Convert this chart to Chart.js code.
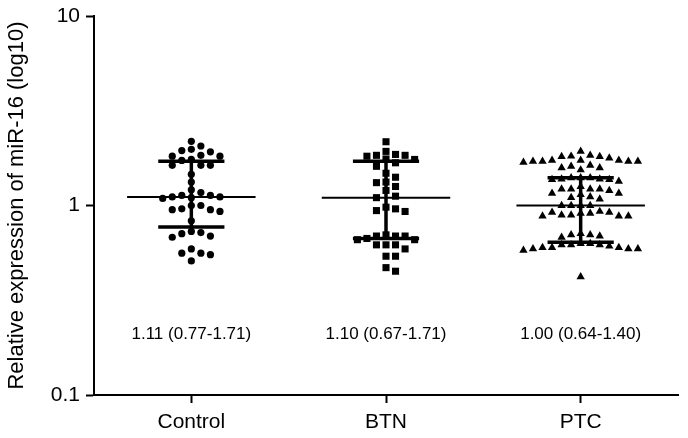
<!DOCTYPE html>
<html>
<head>
<meta charset="utf-8">
<script src="https://cdn.jsdelivr.net/npm/chart.js@4/dist/chart.umd.min.js"></script>
<style>
  html, body { margin: 0; padding: 0; background: #fff; }
  #c { display: block; }
</style>
</head>
<body>
<canvas id="c" width="688" height="438"></canvas>
<script>
// ---- data ----
const categories = ['Control', 'BTN', 'PTC'];
const yTicks = [0.1, 1, 10];
const controlValues = [
  2.18, 1.98, 1.92, 1.95, 2.06, 1.84, 1.82, 1.73, 1.75, 1.82,
  1.63, 1.63, 1.63, 1.46, 1.33, 1.21, 1.17, 1.13, 1.09, 1.11,
  1.10, 1.11, 1.13, 1.00, 0.96, 0.95, 0.93, 0.95, 1.00, 0.83,
  0.73, 0.71, 0.68, 0.69, 0.72, 0.55, 0.59, 0.56, 0.56, 0.51
];
const btnValues = [
  2.17, 1.86, 1.84, 1.93, 1.82, 1.84, 1.75, 1.76, 1.68, 1.61,
  1.48, 1.33, 1.32, 1.41, 1.20, 1.26, 1.12, 1.10, 0.96, 0.94,
  0.98, 0.93, 0.70, 0.69, 0.66, 0.69, 0.66, 0.67, 0.69, 0.62,
  0.62, 0.62, 0.59, 0.54, 0.54, 0.45, 0.47
];
const ptcValues = [
  1.93,
  1.71, 1.71, 1.71, 1.69, 1.82, 1.81, 1.78, 1.81, 1.84, 1.71, 1.73, 1.73, 1.73,
  1.61, 1.58, 1.54, 1.58, 1.63,
  1.40, 1.40, 1.38, 1.37, 1.34, 1.37, 1.38, 1.40,
  1.26, 1.22, 1.22, 1.20, 1.22, 1.22,
  1.10, 1.16, 1.14, 1.16, 1.08, 1.11,
  1.00, 1.00, 1.00, 1.00,
  0.92, 0.91, 0.89, 0.88, 0.88, 0.88, 0.89, 0.91, 0.92, 0.93,
  0.70, 0.68, 0.69, 0.70, 0.71,
  0.62, 0.62, 0.61, 0.60, 0.59, 0.59, 0.58, 0.59, 0.60, 0.60, 0.62, 0.63, 0.63,
  0.42
];
const medians = [1.11, 1.10, 1.00];
const q1s = [0.77, 0.67, 0.64];
const q3s = [1.71, 1.71, 1.40];

// ---- layout helpers (computed from the values) ----
const groups = [controlValues, btnValues, ptcValues];
const pointStyles = ['circle', 'rect', 'triangle'];
const pointRadii = [3.6, 5, 4.8];

function swarm(values, center) {
  const TH = 0.04;      // min vertical gap (decades) in one column
  const COL = 0.049;    // column width in category units
  const placed = [];
  const order = values.map((v, i) => i).sort((a, b) => values[b] - values[a]);
  const pts = new Array(values.length);
  for (const i of order) {
    const lv = Math.log10(values[i]);
    for (let k = 0; k < 60; k++) {
      const col = k === 0 ? 0 : (k % 2 ? (k + 1) / 2 : -k / 2);
      if (!placed.some(p => p.col === col && Math.abs(p.lv - lv) < TH)) {
        placed.push({ col, lv });
        pts[i] = { x: center + col * COL, y: values[i] };
        break;
      }
    }
  }
  return pts;
}

const datasets = [];
groups.forEach((vals, g) => {
  datasets.push({
    type: 'scatter',
    data: swarm(vals, g + 1),
    pointStyle: pointStyles[g],
    pointRadius: pointRadii[g],
    pointBackgroundColor: '#000',
    pointBorderColor: '#000',
    pointBorderWidth: 0,
    order: 2
  });
});

const medData = [], quartData = [];
medians.forEach((m, g) => {
  const c = g + 1;
  medData.push({ x: c - 0.33, y: m }, { x: c + 0.33, y: m }, { x: c + 0.34, y: null });
  quartData.push({ x: c - 0.17, y: q3s[g] }, { x: c + 0.17, y: q3s[g] }, { x: c + 0.18, y: null });
  quartData.push({ x: c - 0.17, y: q1s[g] }, { x: c + 0.17, y: q1s[g] }, { x: c + 0.18, y: null });
  quartData.push({ x: c, y: q1s[g] }, { x: c, y: q3s[g] }, { x: c + 0.01, y: null });
});
datasets.push({ type: 'scatter', data: medData, showLine: true, spanGaps: false,
  borderColor: '#000', borderWidth: 2, pointRadius: 0, borderCapStyle: 'butt', order: 0 });
datasets.push({ type: 'scatter', data: quartData, showLine: true, spanGaps: false,
  borderColor: '#000', borderWidth: 3.5, pointRadius: 0, borderCapStyle: 'butt', order: 0 });

const fmt = v => v.toFixed(2);
const annotationPlugin = {
  id: 'annot',
  afterDatasetsDraw(chart) {
    const { ctx, scales: { x, y } } = chart;
    ctx.save();
    ctx.fillStyle = '#000';
    ctx.font = '17px "Liberation Sans", Arial, sans-serif';
    ctx.textAlign = 'center';
    ctx.textBaseline = 'middle';
    medians.forEach((m, g) => {
      ctx.fillText(`${fmt(m)} (${fmt(q1s[g])}-${fmt(q3s[g])})`, x.getPixelForValue(g + 1), y.getPixelForValue(0.21));
    });
    ctx.restore();
  }
};

const FONT = '"Liberation Sans", Arial, sans-serif';
new Chart(document.getElementById('c'), {
  type: 'scatter',
  data: { datasets },
  plugins: [annotationPlugin],
  options: {
    responsive: false,
    animation: false,
    devicePixelRatio: 1,
    layout: { padding: { left: 0, right: 10, top: 16, bottom: 0 } },
    plugins: { legend: { display: false }, tooltip: { enabled: false } },
    scales: {
      x: {
        type: 'linear', min: 0.5, max: 3.5,
        afterBuildTicks: s => { s.ticks = categories.map((c, i) => ({ value: i + 1 })); },
        afterFit: s => { s.height = 43; },
        ticks: { color: '#000', font: { family: FONT, size: 21 }, padding: 7,
                 callback: v => categories[Math.round(v) - 1] || '' },
        grid: { drawOnChartArea: false, drawTicks: true, tickLength: 8, tickWidth: 2, tickColor: '#000' },
        border: { display: true, color: '#000', width: 2 }
      },
      y: {
        type: 'logarithmic', min: 0.1, max: 10,
        afterBuildTicks: s => { s.ticks = yTicks.map(v => ({ value: v })); },
        afterFit: s => { s.width = 94; },
        ticks: { color: '#000', font: { family: FONT, size: 21, lineHeight: 0.9 }, padding: 6,
                 callback: v => String(v) },
        grid: { drawOnChartArea: false, drawTicks: true, tickLength: 8, tickWidth: 2, tickColor: '#000' },
        border: { display: true, color: '#000', width: 2 },
        title: { display: true, text: 'Relative expression of miR-16 (log10)', color: '#000',
                 font: { family: FONT, size: 22 }, padding: { top: 4, bottom: 0 } }
      }
    }
  }
});
</script>
</body>
</html>
